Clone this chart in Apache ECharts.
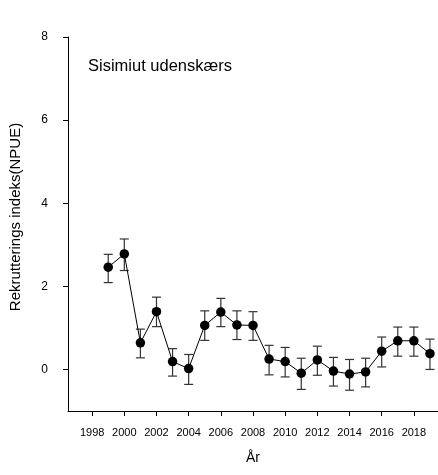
<!DOCTYPE html>
<html>
<head>
<meta charset="utf-8">
<script src="https://cdn.jsdelivr.net/npm/echarts@6/dist/echarts.min.js"></script>
<style>
  html, body { margin: 0; padding: 0; background: #fff; }
  #chart { width: 438px; height: 475px; }
</style>
</head>
<body>
<div id="chart"></div>
<script>
// Recruitment index (NPUE), Sisimiut offshore, with error bars
const years = [1999, 2000, 2001, 2002, 2003, 2004, 2005, 2006, 2007, 2008, 2009,
               2010, 2011, 2012, 2013, 2014, 2015, 2016, 2017, 2018, 2019];
const npue  = [2.46, 2.78, 0.64, 1.39, 0.19, 0.02, 1.06, 1.38, 1.07, 1.06, 0.25,
               0.19, -0.09, 0.23, -0.04, -0.11, -0.06, 0.44, 0.69, 0.69, 0.38];
const upper = [2.77, 3.14, 0.97, 1.74, 0.50, 0.36, 1.41, 1.71, 1.41, 1.39, 0.58,
               0.53, 0.27, 0.56, 0.29, 0.24, 0.27, 0.78, 1.02, 1.02, 0.73];
const lower = [2.09, 2.38, 0.28, 1.03, -0.16, -0.36, 0.70, 1.03, 0.72, 0.70, -0.13,
               -0.18, -0.48, -0.14, -0.40, -0.50, -0.42, 0.06, 0.32, 0.32, 0.00];
const xTicks = [1998, 2000, 2002, 2004, 2006, 2008, 2010, 2012, 2014, 2016, 2018];
const yTicks = [0, 2, 4, 6, 8];

const font = 'Liberation Sans, Arial, sans-serif';
const chart = echarts.init(document.getElementById('chart'), null, { renderer: 'canvas' });

const errData = years.map((y, i) => [y, lower[i], upper[i]]);

chart.setOption({
  animation: false,
  backgroundColor: '#fff',
  title: {
    text: 'Sisimiut udenskærs',
    left: 88, top: 58, padding: 0,
    textStyle: { fontFamily: font, fontSize: 16.5, fontWeight: 'normal', color: '#000' }
  },
  grid: { left: 67, right: -2, top: 37, bottom: 64, containLabel: false },
  xAxis: {
    type: 'value', min: 1996.5, max: 2019.5,
    name: 'År', nameLocation: 'middle', nameGap: 40,
    nameTextStyle: { fontFamily: font, fontSize: 14, color: '#000' },
    axisLine: { show: true, onZero: false, lineStyle: { color: '#000', width: 1 } },
    axisTick: { show: true, inside: false, length: 5, customValues: xTicks, lineStyle: { color: '#000' } },
    axisLabel: {
      customValues: xTicks, margin: 16, fontFamily: font, fontSize: 11, color: '#000',
      formatter: (v) => String(v)
    },
    splitLine: { show: false }
  },
  yAxis: {
    type: 'value', min: -1, max: 8,
    name: 'Rekrutterings indeks(NPUE)', nameLocation: 'middle', nameGap: 45, nameRotate: 90,
    nameTextStyle: { fontFamily: font, fontSize: 15, color: '#000', padding: [0, 0, 0, 14] },
    axisLine: { show: true, onZero: false, lineStyle: { color: '#000', width: 1 } },
    axisTick: { show: true, inside: false, length: 5, customValues: yTicks, lineStyle: { color: '#000' } },
    axisLabel: { customValues: yTicks, margin: 20, fontFamily: font, fontSize: 12, color: '#000' },
    splitLine: { show: false }
  },
  series: [
    {
      type: 'custom',
      name: 'err',
      data: errData,
      z: 2,
      renderItem: function (params, api) {
        const x = api.value(0);
        const lo = api.coord([x, api.value(1)]);
        const hi = api.coord([x, api.value(2)]);
        const half = 4.5;
        const style = { stroke: '#333', lineWidth: 1.2 };
        return {
          type: 'group',
          children: [
            { type: 'line', shape: { x1: lo[0], y1: lo[1], x2: hi[0], y2: hi[1] }, style },
            { type: 'line', shape: { x1: hi[0] - half, y1: hi[1], x2: hi[0] + half, y2: hi[1] }, style },
            { type: 'line', shape: { x1: lo[0] - half, y1: lo[1], x2: lo[0] + half, y2: lo[1] }, style }
          ]
        };
      }
    },
    {
      type: 'line',
      name: 'NPUE',
      data: years.map((y, i) => [y, npue[i]]),
      z: 3,
      symbol: 'circle', symbolSize: 9.5,
      lineStyle: { color: '#000', width: 1 },
      itemStyle: { color: '#000' }
    }
  ]
});
</script>
</body>
</html>
